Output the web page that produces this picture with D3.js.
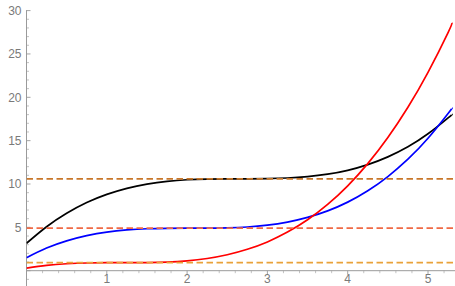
<!DOCTYPE html>
<html>
<head>
<meta charset="utf-8">
<script src="https://cdn.jsdelivr.net/npm/d3@7"></script>
<style>
  html, body { margin: 0; padding: 0; background: #fff; }
  svg { display: block; }
  .tick-label { font-family: "Liberation Sans", Arial, sans-serif; font-size: 12px; fill: #7a7a7a; }
</style>
</head>
<body>
<div id="chart"></div>
<script>
'use strict';

// sample positions along x
var xs = [0, 0.25, 0.5, 0.75, 1, 1.25, 1.5, 1.75, 2, 2.25, 2.5, 2.75, 3, 3.25, 3.5, 3.75, 4, 4.25, 4.5, 4.75, 5, 5.25, 5.3];

// curves
var blackVals = [3.16, 5.07, 6.62, 7.86, 8.80, 9.50, 9.99, 10.31, 10.49, 10.57, 10.60, 10.60, 10.62, 10.69, 10.85, 11.13, 11.58, 12.24, 13.13, 14.30, 15.79, 17.63, 18.04];
var blueVals = [1.50, 2.61, 3.44, 4.04, 4.45, 4.70, 4.84, 4.89, 4.90, 4.90, 4.94, 5.04, 5.25, 5.61, 6.15, 6.90, 7.91, 9.22, 10.86, 12.86, 15.27, 18.13, 18.76];
var redVals = [0.30, 0.62, 0.80, 0.89, 0.92, 0.92, 0.93, 0.99, 1.14, 1.41, 1.84, 2.47, 3.32, 4.45, 5.87, 7.64, 9.79, 12.35, 15.36, 18.86, 22.88, 27.47, 28.6];

// horizontal reference levels
var levels = [10.6, 4.9, 0.92];

var yMajor = [5, 10, 15, 20, 25, 30];
var xMajor = [1, 2, 3, 4, 5];

var w = 455, h = 286;

var svg = d3.select('#chart').append('svg')
  .attr('width', w)
  .attr('height', h);

var x = d3.scaleLinear().domain([0, 5.33]).range([26.5, 454.5]);
var y = d3.scaleLinear().domain([0, 30]).range([270.7, 10.6]);

var axisColor = '#9a9a9a';

// y axis line, runs a little below zero
var ax = svg.append('g');
ax.append('line')
  .attr('x1', x(0)).attr('x2', x(0))
  .attr('y1', y(30) - 0.5).attr('y2', h)
  .attr('stroke', axisColor).attr('stroke-width', 1);

// y minor ticks every 1, major every 5
d3.range(-1, 31).forEach(function (v) {
  var major = v % 5 === 0;
  ax.append('line')
    .attr('x1', x(0)).attr('x2', x(0) + (major ? 4 : 2.5))
    .attr('y1', y(v)).attr('y2', y(v))
    .attr('stroke', axisColor).attr('stroke-width', major ? 0.9 : 0.6);
});

ax.selectAll('text.ylab')
  .data(yMajor)
  .enter().append('text')
  .attr('class', 'tick-label')
  .attr('x', x(0) - 5)
  .attr('y', function (d) { return y(d); })
  .attr('dy', '0.36em')
  .style('text-anchor', 'end')
  .text(function (d) { return d; });

// x axis line at y = 0
ax.append('line')
  .attr('x1', x(0)).attr('x2', w)
  .attr('y1', y(0)).attr('y2', y(0))
  .attr('stroke', axisColor).attr('stroke-width', 1);

d3.range(1, 27).forEach(function (i) {
  var v = i * 0.2;
  var major = i % 5 === 0;
  ax.append('line')
    .attr('x1', x(v)).attr('x2', x(v))
    .attr('y1', y(0)).attr('y2', y(0) + (major ? 4 : 2.5))
    .attr('stroke', axisColor).attr('stroke-width', major ? 0.9 : 0.6);
});

ax.selectAll('text.xlab')
  .data(xMajor)
  .enter().append('text')
  .attr('class', 'tick-label')
  .attr('x', function (d) { return x(d); })
  .attr('y', 283)
  .style('text-anchor', 'middle')
  .text(function (d) { return d; });

// clip to the plot area
svg.append('clipPath').attr('id', 'plotclip')
  .append('rect')
  .attr('x', x(0)).attr('y', 0)
  .attr('width', w - x(0)).attr('height', h);

var plot = svg.append('g').attr('clip-path', 'url(#plotclip)');

var line = d3.line()
  .x(function (d) { return x(d[0]); })
  .y(function (d) { return y(d[1]); })
  .curve(d3.curveNatural);

var series = [
  { vals: blackVals, color: '#000000' },
  { vals: blueVals, color: '#0000ff' },
  { vals: redVals, color: '#ff0000' }
];

series.forEach(function (s) {
  plot.append('path')
    .datum(xs.map(function (xv, i) { return [xv, s.vals[i]]; }))
    .attr('d', line)
    .attr('fill', 'none')
    .attr('stroke', s.color)
    .attr('stroke-width', 1.7);
});

// dashed reference lines drawn on top
var levelColors = ['#c8772a', '#f06a45', '#e9a23a'];
plot.selectAll('line.level')
  .data(levels)
  .enter().append('line')
  .attr('x1', x(0)).attr('x2', w)
  .attr('y1', function (d) { return y(d); })
  .attr('y2', function (d) { return y(d); })
  .attr('stroke', function (d, i) { return levelColors[i]; })
  .attr('stroke-width', 1.7)
  .attr('stroke-dasharray', '6.5,3.5');
</script>
</body>
</html>
